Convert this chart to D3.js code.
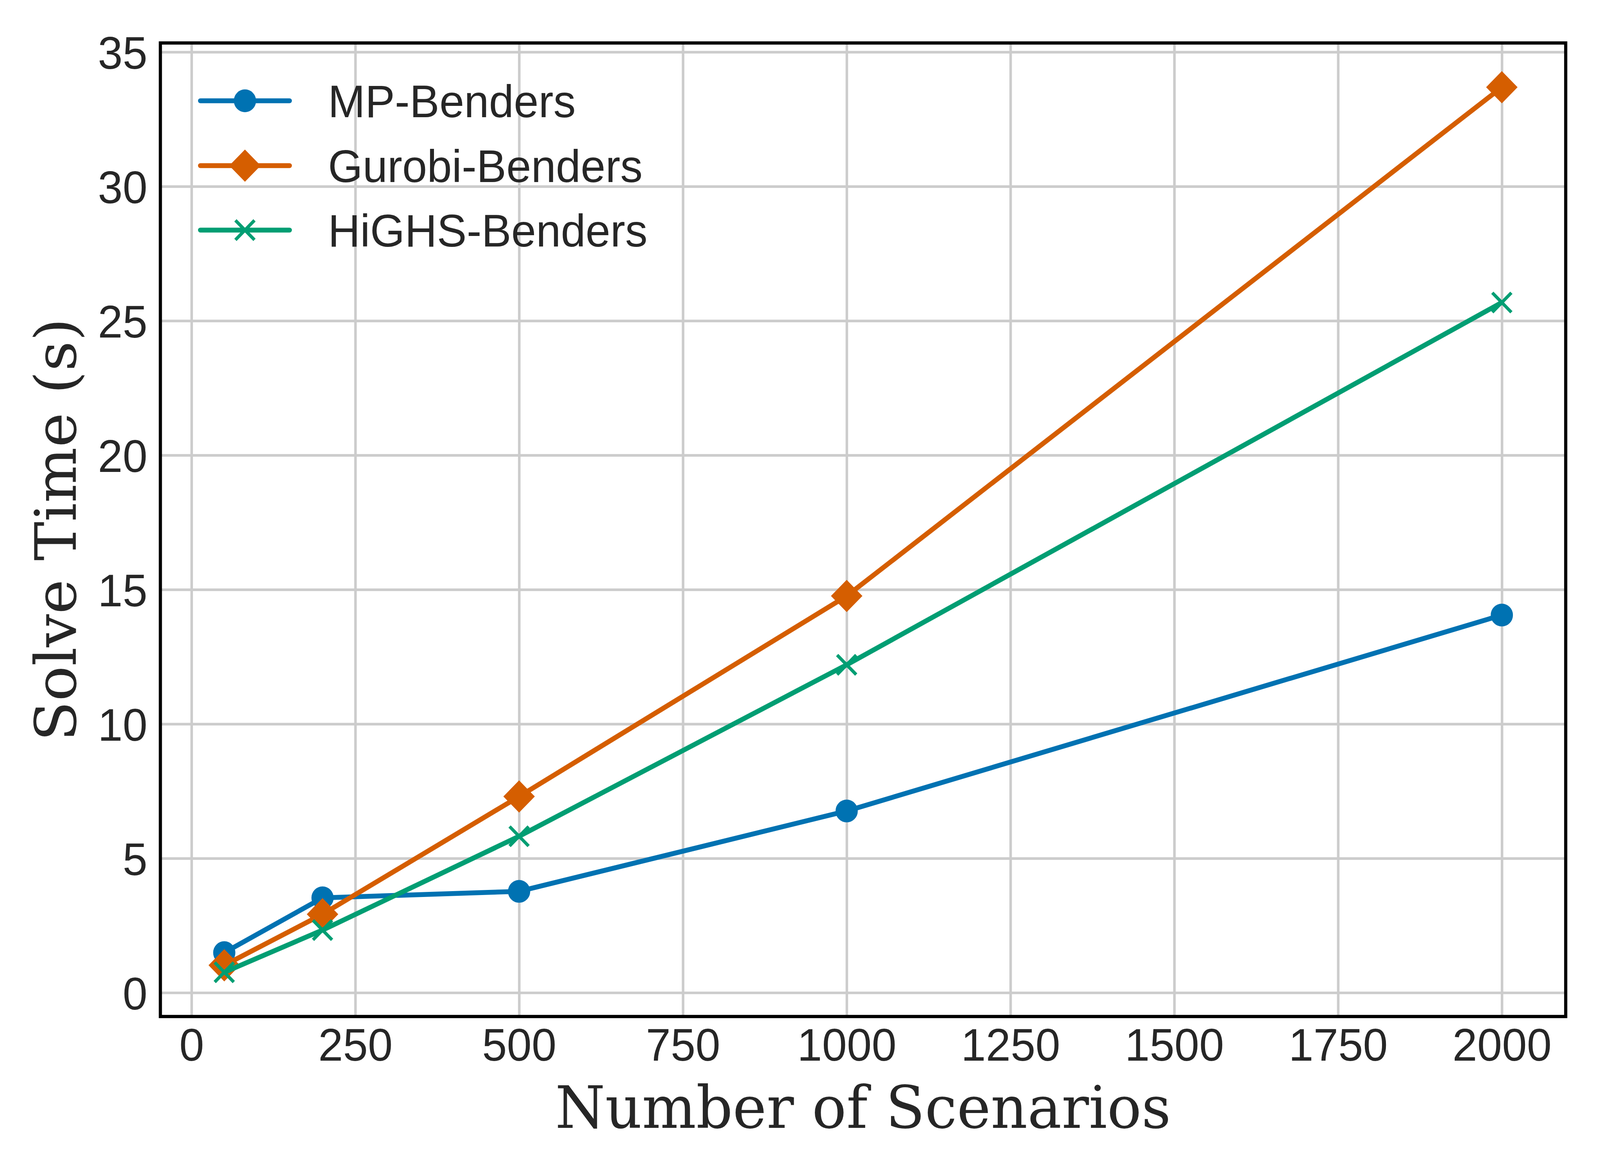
<!DOCTYPE html>
<html>
<head>
<meta charset="utf-8">
<script src="https://cdn.jsdelivr.net/npm/d3@7/dist/d3.min.js"></script>
<style>
  html, body { margin: 0; padding: 0; background: #ffffff; overflow: hidden; width: 100%; height: 100%; }
  svg { display: block; width: 100vw; height: 100vh; }
</style>
</head>
<body>
<script>
// ---- Data ----
const scenarios = [50, 200, 500, 1000, 2000];
const mpBenders = [1.49, 3.53, 3.77, 6.76, 14.05];
const gurobiBenders = [1.02, 2.92, 7.30, 14.76, 33.69];
const highsBenders = [0.76, 2.33, 5.82, 12.20, 25.68];
const seriesNames = ["MP-Benders", "Gurobi-Benders", "HiGHS-Benders"];
const xTicks = [0, 250, 500, 750, 1000, 1250, 1500, 1750, 2000];
const yTicks = [0, 5, 10, 15, 20, 25, 30, 35];
const xLabel = "Number of Scenarios";
const yLabel = "Solve Time (s)";

// ---- Layout ----
const W = 4200, H = 3000;
const plotL = 421, plotR = 4110, plotT = 110, plotB = 2602;
const colors = ["#0072B2", "#D55E00", "#009E73"];
const markers = ["circle", "diamond", "x"];
const textColor = "#262626";
const tickFont = "'Liberation Sans', Arial, sans-serif";
const labelFont = "'DejaVu Serif', serif";

const series = [mpBenders, gurobiBenders, highsBenders].map((vals, i) => ({
  name: seriesNames[i], color: colors[i], marker: markers[i],
  points: scenarios.map((s, j) => ({ x: s, y: vals[j] }))
}));

// matplotlib-style 5% margins
const allY = [].concat(mpBenders, gurobiBenders, highsBenders);
const xMin = d3.min(scenarios), xMax = d3.max(scenarios);
const yMin = d3.min(allY), yMax = d3.max(allY);
const xm = (xMax - xMin) * 0.05, ym = (yMax - yMin) * 0.05;

const x = d3.scaleLinear().domain([xMin - xm, xMax + xm]).range([plotL, plotR]);
const y = d3.scaleLinear().domain([yMin - ym, yMax + ym]).range([plotB, plotT]);

const svg = d3.select("body").append("svg")
  .attr("viewBox", `0 0 ${W} ${H}`)
  .attr("preserveAspectRatio", "none");
svg.append("rect").attr("width", W).attr("height", H).attr("fill", "#ffffff");

// ---- Grid ----
const gridX = svg.append("g").attr("transform", `translate(0,${plotB})`)
  .call(d3.axisBottom(x).tickValues(xTicks).tickSize(-(plotB - plotT)).tickFormat(""));
gridX.select(".domain").remove();
gridX.selectAll("line").attr("stroke", "#cccccc").attr("stroke-width", 6.7);

const gridY = svg.append("g").attr("transform", `translate(${plotL},0)`)
  .call(d3.axisLeft(y).tickValues(yTicks).tickSize(-(plotR - plotL)).tickFormat(""));
gridY.select(".domain").remove();
gridY.selectAll("line").attr("stroke", "#cccccc").attr("stroke-width", 6.7);

// ---- Tick labels ----
const axX = svg.append("g").attr("transform", `translate(0,${plotB})`)
  .call(d3.axisBottom(x).tickValues(xTicks).tickSize(0).tickPadding(0).tickFormat(d3.format("d")));
axX.select(".domain").remove();
axX.selectAll("text")
  .attr("y", 113).attr("dy", null)
  .attr("fill", textColor)
  .style("font-family", tickFont).style("font-size", "117px");

const axY = svg.append("g").attr("transform", `translate(${plotL},0)`)
  .call(d3.axisLeft(y).tickValues(yTicks).tickSize(0).tickPadding(0).tickFormat(d3.format("d")));
axY.select(".domain").remove();
axY.selectAll("text")
  .attr("x", -34).attr("dy", "0.36em")
  .attr("fill", textColor)
  .style("font-family", tickFont).style("font-size", "117px");

// ---- Marker drawing ----
function drawMarker(g, type, cx, cy, color) {
  if (type === "circle") {
    g.append("circle").attr("cx", cx).attr("cy", cy).attr("r", 25)
      .attr("fill", color).attr("stroke", color).attr("stroke-width", 8.33);
  } else if (type === "diamond") {
    const s = 35.4;
    g.append("path")
      .attr("d", `M${cx},${cy - s}L${cx + s},${cy}L${cx},${cy + s}L${cx - s},${cy}Z`)
      .attr("fill", color).attr("stroke", color).attr("stroke-width", 8.33)
      .attr("stroke-linejoin", "miter");
  } else {
    const s = 25;
    g.append("path")
      .attr("d", `M${cx - s},${cy - s}L${cx + s},${cy + s}M${cx - s},${cy + s}L${cx + s},${cy - s}`)
      .attr("fill", "none").attr("stroke", color).attr("stroke-width", 8.33)
      .attr("stroke-linecap", "butt");
  }
}

// ---- Lines ----
const line = d3.line().x(d => x(d.x)).y(d => y(d.y));
const plot = svg.append("g");
series.forEach(s => {
  const g = plot.append("g");
  g.append("path").datum(s.points).attr("d", line)
    .attr("fill", "none").attr("stroke", s.color).attr("stroke-width", 12.5)
    .attr("stroke-linecap", "round").attr("stroke-linejoin", "round");
  s.points.forEach(p => drawMarker(g, s.marker, x(p.x), y(p.y), s.color));
});

// ---- Frame ----
svg.append("rect").attr("x", plotL).attr("y", plotT)
  .attr("width", plotR - plotL).attr("height", plotB - plotT)
  .attr("fill", "none").attr("stroke", "#000000").attr("stroke-width", 8.33);

// ---- Legend ----
const legend = svg.append("g");
const legRowY = [258, 424, 589];
series.forEach((s, i) => {
  const ly = legRowY[i];
  legend.append("line").attr("x1", 526).attr("x2", 760).attr("y1", ly).attr("y2", ly)
    .attr("stroke", s.color).attr("stroke-width", 12.5).attr("stroke-linecap", "round");
  drawMarker(legend, s.marker, 643, ly, s.color);
  legend.append("text").attr("x", 861).attr("y", ly).attr("dy", "0.36em")
    .attr("fill", textColor).style("font-family", tickFont).style("font-size", "117px")
    .text(s.name);
});

// ---- Axis labels ----
svg.append("text")
  .attr("x", (plotL + plotR) / 2).attr("y", 2887)
  .attr("text-anchor", "middle").attr("fill", textColor)
  .style("font-family", labelFont).style("font-size", "150px")
  .text(xLabel);

svg.append("text")
  .attr("transform", `translate(199,${(plotT + plotB) / 2}) rotate(-90)`)
  .attr("text-anchor", "middle").attr("fill", textColor)
  .style("font-family", labelFont).style("font-size", "150px")
  .text(yLabel);
</script>
</body>
</html>
